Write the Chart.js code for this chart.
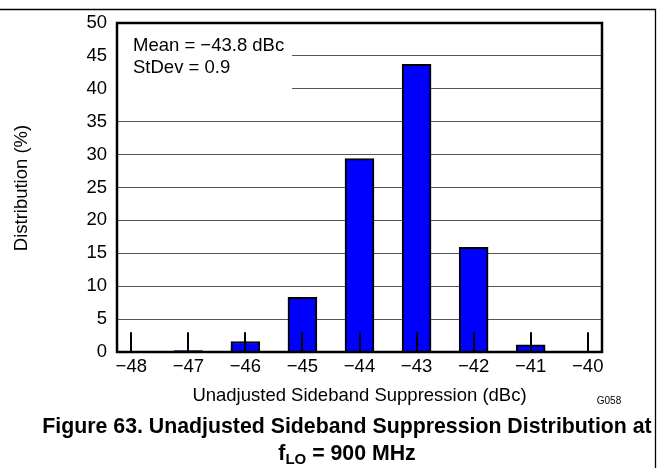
<!DOCTYPE html>
<html>
<head>
<meta charset="utf-8">
<script src="https://cdn.jsdelivr.net/npm/chart.js@4.4.1/dist/chart.umd.min.js"></script>
<style>
  html, body { margin: 0; padding: 0; background: #fff; }
  #wrap { width: 657px; height: 468px; }
</style>
</head>
<body>
<div id="wrap"><canvas id="chart" width="657" height="468"></canvas></div>
<script>
'use strict';

// sideband suppression bins (dBc) and share of units in each bin (%)
const categories = [-48, -47, -46, -45, -44, -43, -42, -41, -40];
const distribution = [0, 0.2, 1.6, 8.3, 29.4, 43.7, 15.9, 1.1, 0];
const yTickStep = 5;

const FONT = '"Liberation Sans", Arial, sans-serif';
const minus = v => String(v).replace('-', '\u2212');

let canvasElem = document.getElementById('chart');

// white box behind the Mean / StDev text, inner tick marks, frame and all the text
const decorations = {
  id: 'decorations',
  beforeDatasetsDraw(chart) {
    const { ctx, chartArea, scales } = chart;
    ctx.save();
    ctx.fillStyle = '#fff';
    ctx.fillRect(chartArea.left + 1, chartArea.top + 1, 291 - chartArea.left, scales.y.getPixelForValue(37.5) - chartArea.top);
    ctx.restore();
  },
  afterDatasetsDraw(chart) {
    const { ctx, chartArea, scales } = chart;
    ctx.save();
    ctx.strokeStyle = '#000';
    ctx.lineWidth = 2;
    const y0 = scales.y.getPixelForValue(0);
    const y3 = scales.y.getPixelForValue(3);
    scales.x.ticks.forEach(t => {
      const x = Math.round(scales.x.getPixelForValue(t.value));
      ctx.beginPath();
      ctx.moveTo(x, y0);
      ctx.lineTo(x, y3);
      ctx.stroke();
    });
    ctx.lineWidth = 2.5;
    ctx.strokeRect(chartArea.left, chartArea.top, chartArea.right - chartArea.left, chartArea.bottom - chartArea.top);
    ctx.restore();
  },
  afterDraw(chart) {
    const { ctx, chartArea } = chart;
    ctx.save();
    ctx.fillStyle = '#000';
    ctx.strokeStyle = '#000';

    // page frame
    ctx.lineWidth = 1.3;
    ctx.beginPath();
    ctx.moveTo(0, 9.5);
    ctx.lineTo(655.5, 9.5);
    ctx.lineTo(655.5, 468);
    ctx.stroke();

    // stats text
    ctx.font = '18.5px ' + FONT;
    ctx.textAlign = 'left';
    ctx.textBaseline = 'alphabetic';
    ctx.fillText('Mean = \u221243.8 dBc', 133, 51);
    ctx.fillText('StDev = 0.9', 133, 73);

    // axis titles
    ctx.textAlign = 'center';
    ctx.fillText('Unadjusted Sideband Suppression (dBc)', (chartArea.left + chartArea.right) / 2, 401);
    ctx.save();
    ctx.translate(27, 188);
    ctx.rotate(-Math.PI / 2);
    ctx.fillText('Distribution (%)', 0, 0);
    ctx.restore();

    ctx.font = '10px ' + FONT;
    ctx.fillText('G058', 609, 404);

    // figure caption
    ctx.font = 'bold 21.3px ' + FONT;
    ctx.fillText('Figure 63. Unadjusted Sideband Suppression Distribution at', 347, 433);
    const big = 'bold 21.3px ' + FONT, small = 'bold 15px ' + FONT;
    ctx.font = big;
    const wF = ctx.measureText('f').width;
    const wRest = ctx.measureText(' = 900 MHz').width;
    ctx.font = small;
    const wLO = ctx.measureText('LO').width;
    let x = 347 - (wF + wLO + wRest) / 2;
    ctx.textAlign = 'left';
    ctx.font = big;
    ctx.fillText('f', x, 460);
    ctx.font = small;
    ctx.fillText('LO', x + wF, 464);
    ctx.font = big;
    ctx.fillText(' = 900 MHz', x + wF + wLO, 460);
    ctx.restore();
  }
};

const data = {
  datasets: [
    {
      label: 'Distribution',
      data: categories.map((c, i) => ({ x: c, y: distribution[i] })),
      backgroundColor: '#0000ff',
      borderColor: '#000',
      borderWidth: 2,
      barThickness: 29,
    },
  ],
};

const options = {
  responsive: false,
  animation: false,
  devicePixelRatio: 1,
  layout: { padding: { top: 23, right: 55, left: 0, bottom: 0 } },
  plugins: {
    legend: { display: false },
    tooltip: { enabled: false },
  },
  scales: {
    x: {
      type: 'linear',
      offset: false,
      min: categories[0] - 0.25,
      max: categories[categories.length - 1] + 0.25,
      afterBuildTicks: scale => { scale.ticks = categories.map(v => ({ value: v })); },
      afterFit: scale => { scale.height = 116; },
      grid: { display: false, drawTicks: false },
      border: { display: false },
      ticks: {
        padding: 4,
        color: '#000',
        font: { family: FONT, size: 18.5 },
        maxRotation: 0,
        autoSkip: false,
        callback: v => minus(v),
      },
    },
    y: {
      min: 0,
      max: 50,
      afterFit: scale => { scale.width = 117; },
      grid: { color: '#555', lineWidth: 1, drawTicks: false },
      border: { display: false },
      ticks: {
        stepSize: yTickStep,
        padding: 10,
        color: '#000',
        font: { family: FONT, size: 18.5 },
      },
    },
  },
};

new Chart(canvasElem, {
  type: 'bar',
  data: data,
  options: options,
  plugins: [decorations],
});
</script>
</body>
</html>
